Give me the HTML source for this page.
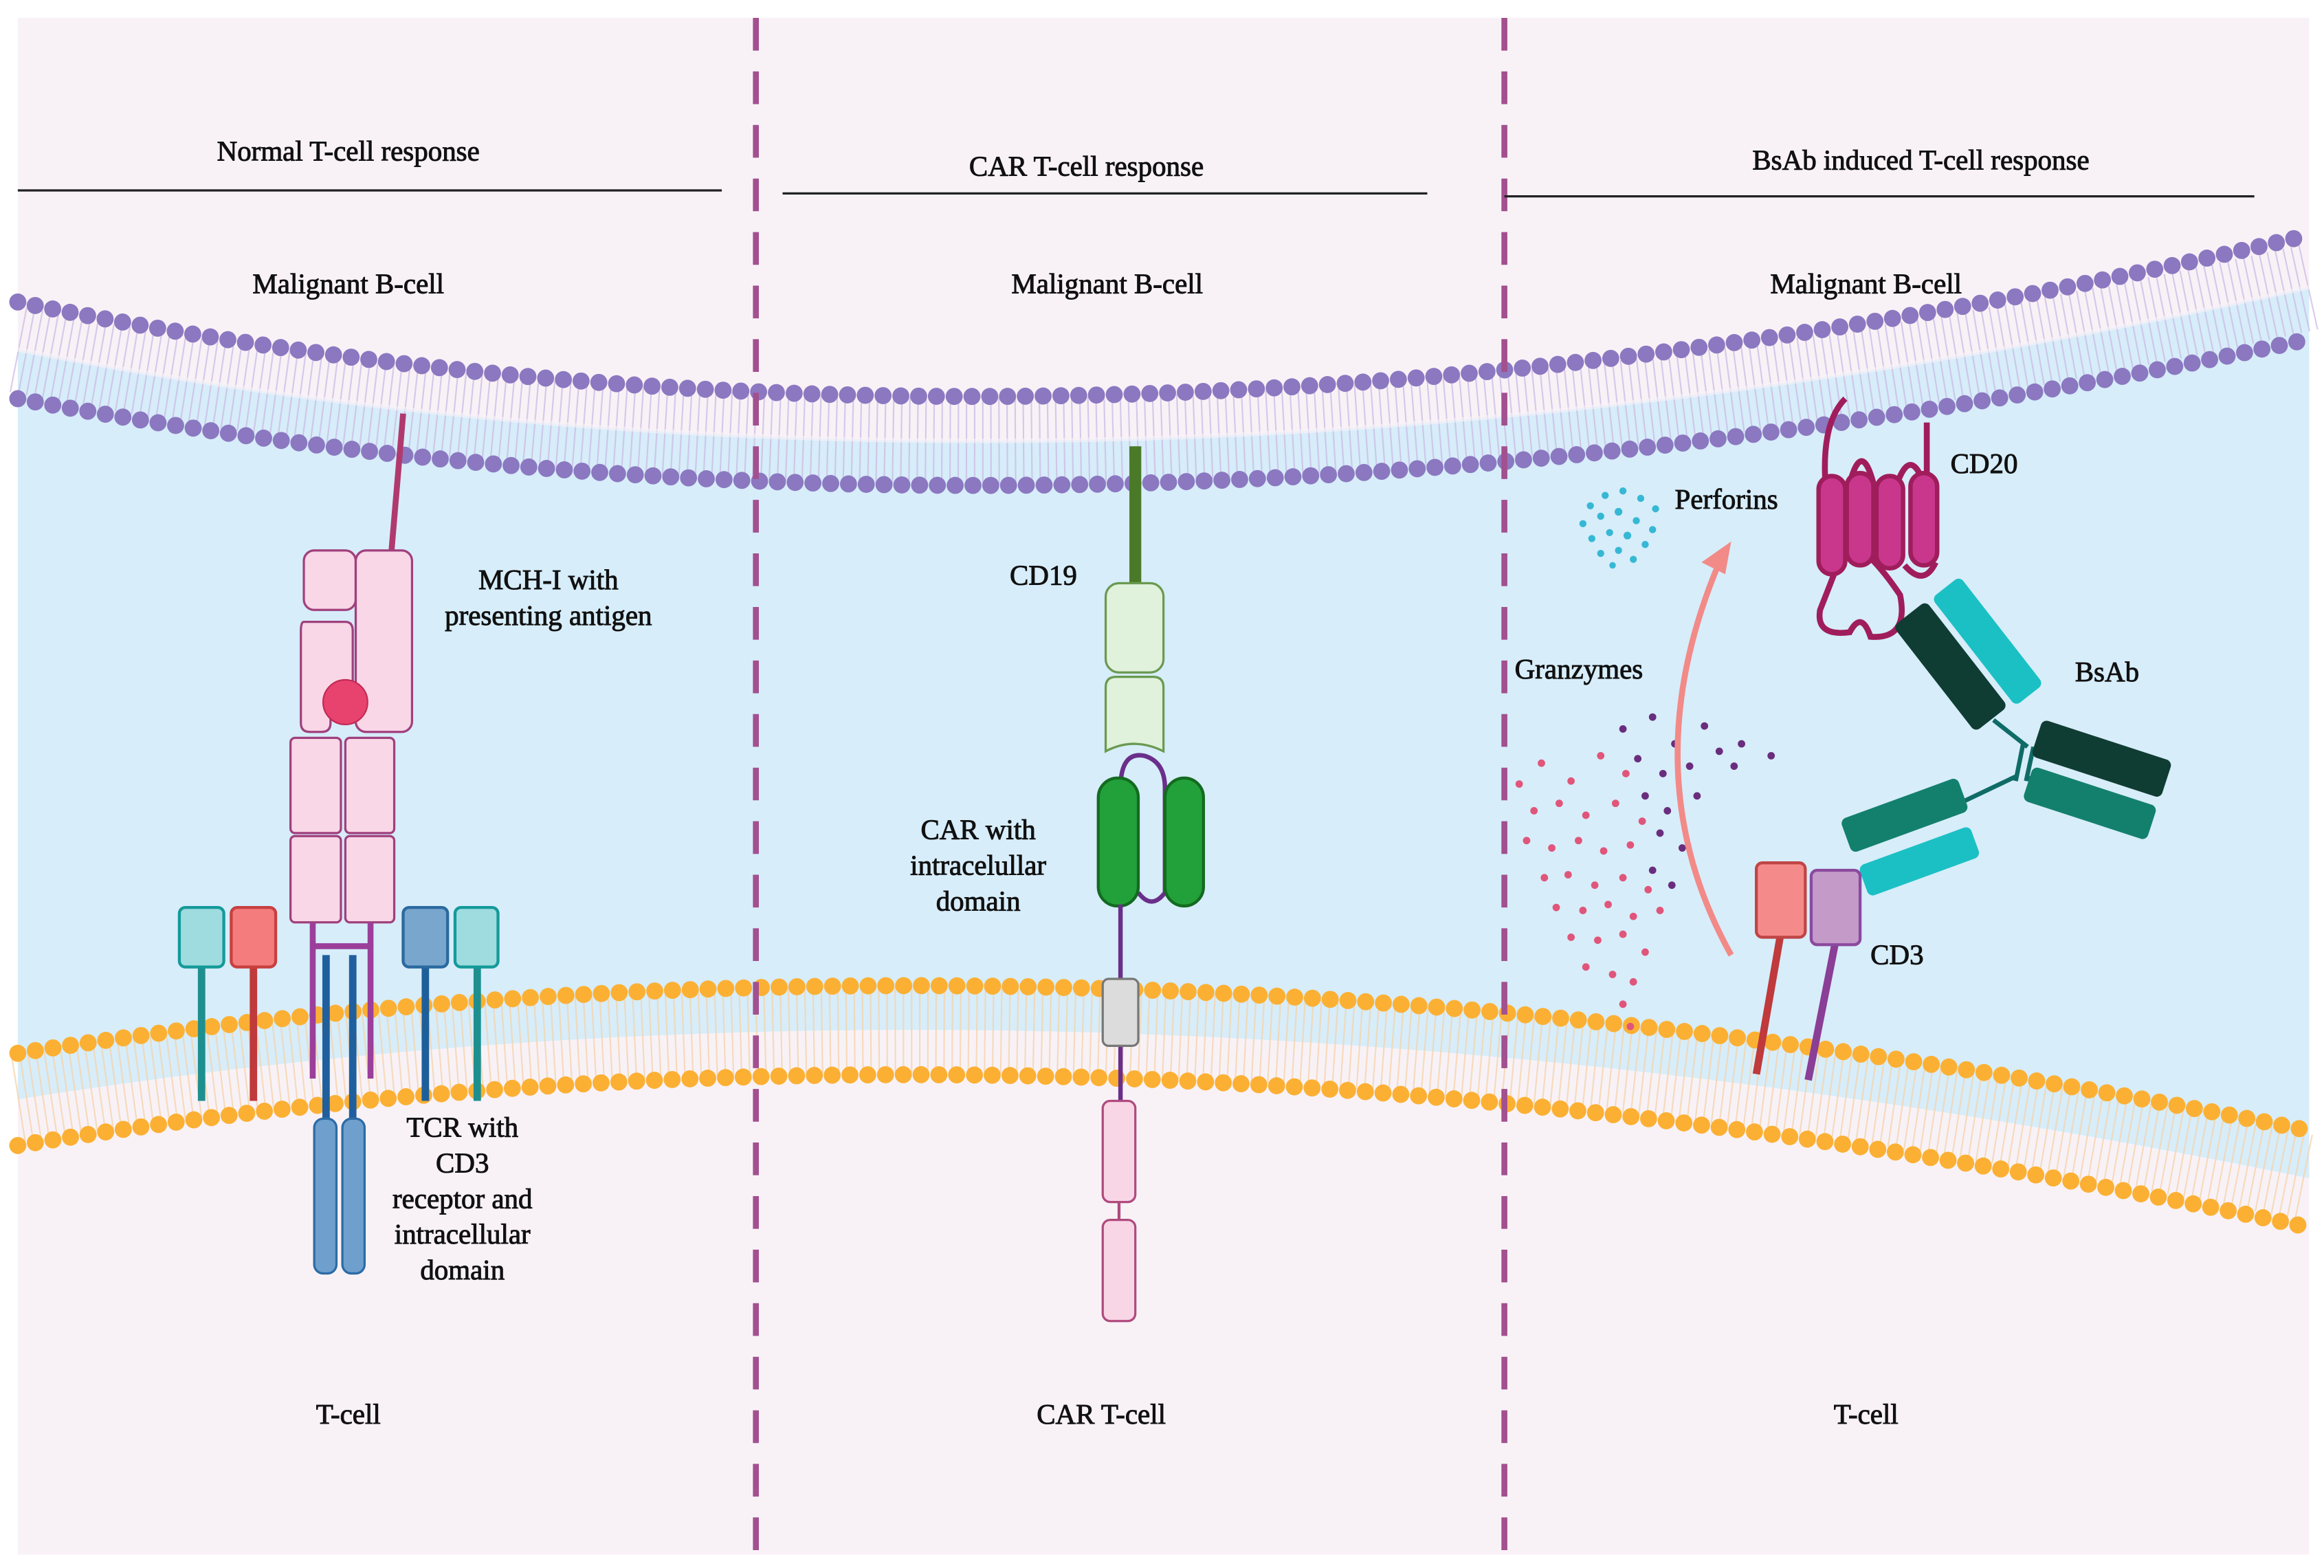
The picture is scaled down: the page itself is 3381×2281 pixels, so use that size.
<!DOCTYPE html>
<html><head><meta charset="utf-8"><style>
html,body{margin:0;padding:0;background:#fff;}
svg{display:block;}
text{font-family:"Liberation Serif",serif;fill:#111;stroke:#111;stroke-width:0.45;}
</style></head><body>
<svg width="3381" height="2281" viewBox="0 0 1568 1054" preserveAspectRatio="none" xmlns="http://www.w3.org/2000/svg">
<rect x="0" y="0" width="1568" height="1054" fill="#ffffff"/>
<rect x="12" y="12" width="1546" height="1033" fill="#f8f2f7"/>
<path d="M12,235 Q735,376 1558,193 L1558,792 Q735,624 12,739 Z" fill="#d7edfa"/>
<path d="M12,235 Q735,376 1558,193" fill="none" stroke="#c9b6e2" stroke-width="58" stroke-dasharray="1 4.5" opacity="0.7"/>
<path d="M12,235 Q735,376 1558,193" fill="none" stroke="#f8f2f7" stroke-width="3" opacity="0.6"/>
<path d="M12,203 Q735,349.5 1558,158" fill="none" stroke="#8b78c0" stroke-width="11.5" stroke-linecap="round" stroke-dasharray="0 12"/>
<path d="M12,268 Q735,402 1558,228" fill="none" stroke="#8b78c0" stroke-width="11.5" stroke-linecap="round" stroke-dasharray="0 12"/>
<path d="M12,739 Q735,624 1558,792" fill="none" stroke="#f6d2a6" stroke-width="58" stroke-dasharray="1 4.5" opacity="0.75"/>
<path d="M12,708 Q735,596 1558,760" fill="none" stroke="#fbb034" stroke-width="11.5" stroke-linecap="round" stroke-dasharray="0 12"/>
<path d="M12,770 Q735,652.5 1558,825" fill="none" stroke="#fbb034" stroke-width="11.5" stroke-linecap="round" stroke-dasharray="0 12"/>
<line x1="510" y1="12" x2="510" y2="1045" stroke="#a2508f" stroke-width="4" stroke-dasharray="22 14"/>
<line x1="1015" y1="12" x2="1015" y2="1045" stroke="#a2508f" stroke-width="4" stroke-dasharray="22 14"/>
<g font-size="19" text-anchor="middle">
<text x="235" y="108">Normal T-cell response</text>
<text x="733" y="118">CAR T-cell response</text>
<text x="1296" y="114">BsAb induced T-cell response</text>
<text x="235" y="197">Malignant B-cell</text>
<text x="747" y="197">Malignant B-cell</text>
<text x="1259" y="197">Malignant B-cell</text>
<text x="235" y="957">T-cell</text>
<text x="743" y="957">CAR T-cell</text>
<text x="1259" y="957">T-cell</text>
</g>
<line x1="12" y1="128" x2="487" y2="128" stroke="#222" stroke-width="1.5"/>
<line x1="528" y1="130" x2="963" y2="130" stroke="#222" stroke-width="1.5"/>
<line x1="1015" y1="132" x2="1521" y2="132" stroke="#222" stroke-width="1.5"/>

<line x1="272" y1="278" x2="264" y2="372" stroke="#b03a6e" stroke-width="4"/>
<g fill="#f9d7e6" stroke="#a0407e" stroke-width="1.5">
<rect x="205" y="370" width="35" height="40" rx="7"/>
<path d="M205,418 h28 q5,0 5,6 v36 q-8,-6 -15,6 v20 q0,6 -6,6 h-8 q-6,0 -6,-6 v-62 q0,-6 2,-6 z"/>
<rect x="240" y="370" width="38" height="122" rx="7"/>
<rect x="196" y="496" width="34" height="64" rx="3"/>
<rect x="233" y="496" width="33" height="64" rx="3"/>
<rect x="196" y="562" width="34" height="58" rx="3"/>
<rect x="233" y="562" width="33" height="58" rx="3"/>
</g>
<circle cx="233" cy="472" r="15" fill="#e8436e" stroke="#c22a55" stroke-width="1"/>
<g stroke="#9b3f9b" stroke-width="4" fill="none">
<line x1="211" y1="620" x2="211" y2="725"/><line x1="250" y1="620" x2="250" y2="725"/><line x1="211" y1="636" x2="250" y2="636"/>
</g>
<g stroke="#1f5f9e" stroke-width="5"><line x1="220" y1="642" x2="220" y2="760"/><line x1="238" y1="642" x2="238" y2="760"/></g>
<g fill="#6f9fcc" stroke="#2c6ba5" stroke-width="1.5">
<rect x="212" y="752" width="15" height="104" rx="6"/><rect x="231" y="752" width="15" height="104" rx="6"/>
</g>
<line x1="136" y1="650" x2="136" y2="740" stroke="#1e8f8f" stroke-width="5"/>
<line x1="171" y1="650" x2="171" y2="740" stroke="#c0393b" stroke-width="5"/>
<line x1="287" y1="650" x2="287" y2="740" stroke="#1d5f9a" stroke-width="5"/>
<line x1="322" y1="650" x2="322" y2="740" stroke="#1e8f8f" stroke-width="5"/>
<rect x="121" y="610" width="30" height="40" rx="4" fill="#9fdcdf" stroke="#159a9a" stroke-width="2"/>
<rect x="156" y="610" width="30" height="40" rx="4" fill="#f47c7c" stroke="#c84040" stroke-width="2"/>
<rect x="272" y="610" width="30" height="40" rx="4" fill="#78a6cc" stroke="#2a6aa0" stroke-width="2"/>
<rect x="307" y="610" width="29" height="40" rx="4" fill="#9fdcdf" stroke="#159a9a" stroke-width="2"/>
<g font-size="19" text-anchor="middle">
<text x="370" y="396">MCH-I with</text><text x="370" y="420">presenting antigen</text>
<text x="312" y="764">TCR with</text><text x="312" y="788">CD3</text><text x="312" y="812">receptor and</text><text x="312" y="836">intracellular</text><text x="312" y="860">domain</text>
</g>

<rect x="762" y="300" width="8" height="94" fill="#4a7a28"/>
<g fill="#e0f1dc" stroke="#6a9a50" stroke-width="1.5">
<rect x="746" y="392" width="39" height="60" rx="9"/>
<path d="M753,455 h25 q7,0 7,7 v43 q-20,-10 -39,0 v-43 q0,-7 7,-7 z"/>
</g>
<path d="M756,608 V530 Q756,505 772,508 Q786,512 786,530 V600 Q777,612 768,600" fill="none" stroke="#6a2f8a" stroke-width="3"/>
<rect x="741" y="523" width="27" height="86" rx="13" fill="#22a03a" stroke="#136b20" stroke-width="2"/>
<rect x="786" y="523" width="26" height="86" rx="13" fill="#22a03a" stroke="#136b20" stroke-width="2"/>
<line x1="756" y1="608" x2="756" y2="742" stroke="#6a2f8a" stroke-width="3"/>
<line x1="755" y1="806" x2="755" y2="822" stroke="#b04a7e" stroke-width="2"/>
<rect x="744" y="658" width="24" height="45" rx="4" fill="#dcdcdc" stroke="#777" stroke-width="1.5"/>
<rect x="744" y="740" width="22" height="68" rx="5" fill="#f8d6e6" stroke="#b04a7e" stroke-width="1.5"/>
<rect x="744" y="820" width="22" height="68" rx="5" fill="#f8d6e6" stroke="#b04a7e" stroke-width="1.5"/>
<g font-size="19" text-anchor="middle">
<text x="704" y="393">CD19</text>
<text x="660" y="564">CAR with</text><text x="660" y="588">intracelullar</text><text x="660" y="612">domain</text>
</g>

<g fill="#36b8d4">
<circle cx="1073" cy="340" r="2.4"/><circle cx="1083" cy="333" r="2.4"/><circle cx="1095" cy="330" r="2.4"/><circle cx="1107" cy="335" r="2.4"/><circle cx="1117" cy="342" r="2.4"/>
<circle cx="1068" cy="352" r="2.4"/><circle cx="1080" cy="347" r="2.4"/><circle cx="1092" cy="344" r="2.6"/><circle cx="1104" cy="350" r="2.4"/><circle cx="1115" cy="356" r="2.4"/>
<circle cx="1074" cy="362" r="2.4"/><circle cx="1086" cy="358" r="2.4"/><circle cx="1098" cy="360" r="2.6"/><circle cx="1110" cy="366" r="2.4"/>
<circle cx="1080" cy="372" r="2.4"/><circle cx="1092" cy="370" r="2.4"/><circle cx="1102" cy="376" r="2.4"/><circle cx="1088" cy="380" r="2.2"/>
</g>
<g fill="#e0567a">
<circle cx="1025" cy="527" r="2.5"/><circle cx="1040" cy="513" r="2.5"/><circle cx="1060" cy="525" r="2.5"/><circle cx="1080" cy="508" r="2.5"/><circle cx="1097" cy="520" r="2.5"/>
<circle cx="1035" cy="545" r="2.5"/><circle cx="1052" cy="540" r="2.5"/><circle cx="1070" cy="548" r="2.5"/><circle cx="1090" cy="540" r="2.5"/><circle cx="1108" cy="552" r="2.5"/>
<circle cx="1030" cy="565" r="2.5"/><circle cx="1047" cy="570" r="2.5"/><circle cx="1065" cy="565" r="2.5"/><circle cx="1082" cy="572" r="2.5"/><circle cx="1100" cy="568" r="2.5"/>
<circle cx="1042" cy="590" r="2.5"/><circle cx="1058" cy="588" r="2.5"/><circle cx="1076" cy="595" r="2.5"/><circle cx="1095" cy="590" r="2.5"/><circle cx="1112" cy="598" r="2.5"/>
<circle cx="1050" cy="610" r="2.5"/><circle cx="1068" cy="612" r="2.5"/><circle cx="1085" cy="608" r="2.5"/><circle cx="1102" cy="616" r="2.5"/><circle cx="1120" cy="612" r="2.5"/>
<circle cx="1060" cy="630" r="2.5"/><circle cx="1078" cy="632" r="2.5"/><circle cx="1095" cy="628" r="2.5"/><circle cx="1110" cy="640" r="2.5"/>
<circle cx="1070" cy="650" r="2.5"/><circle cx="1088" cy="655" r="2.5"/><circle cx="1102" cy="660" r="2.5"/><circle cx="1095" cy="675" r="2.5"/><circle cx="1100" cy="690" r="2.5"/>
</g>
<g fill="#6a2d7e">
<circle cx="1095" cy="490" r="2.5"/><circle cx="1115" cy="482" r="2.5"/><circle cx="1130" cy="500" r="2.5"/><circle cx="1150" cy="488" r="2.5"/><circle cx="1160" cy="505" r="2.5"/>
<circle cx="1105" cy="510" r="2.5"/><circle cx="1122" cy="520" r="2.5"/><circle cx="1140" cy="515" r="2.5"/><circle cx="1175" cy="500" r="2.5"/><circle cx="1195" cy="508" r="2.5"/>
<circle cx="1110" cy="535" r="2.5"/><circle cx="1125" cy="545" r="2.5"/><circle cx="1145" cy="535" r="2.5"/><circle cx="1120" cy="560" r="2.5"/><circle cx="1135" cy="570" r="2.5"/>
<circle cx="1115" cy="585" r="2.5"/><circle cx="1128" cy="595" r="2.5"/><circle cx="1170" cy="515" r="2.5"/>
</g>
<path d="M1168,642 Q1100,520 1160,378" fill="none" stroke="#f28a88" stroke-width="4"/>
<path d="M1168,364 L1148,378 L1164,386 Z" fill="#f28a88"/>
<g font-size="19">
<text x="1130" y="342">Perforins</text>
<text x="1022" y="456">Granzymes</text>
<text x="1316" y="318">CD20</text>
<text x="1400" y="458">BsAb</text>
<text x="1262" y="648">CD3</text>
</g>
<g fill="none" stroke="#a01d5c" stroke-width="4">
<path d="M1232,330 Q1228,285 1245,268"/>
<path d="M1300,330 V284"/>
<path d="M1248,325 Q1256,295 1264,325"/>
<path d="M1280,325 Q1289,300 1298,325"/>
<path d="M1239,382 Q1232,400 1228,410 Q1225,428 1248,425 Q1256,410 1262,428 Q1288,430 1282,400 Q1272,385 1262,375"/>
<path d="M1285,380 Q1298,395 1306,378"/>
</g>
<g fill="#c8378c" stroke="#a01d5c" stroke-width="3">
<rect x="1227" y="320" width="18" height="66" rx="9"/>
<rect x="1246" y="318" width="18" height="62" rx="9"/>
<rect x="1266" y="320" width="18" height="62" rx="9"/>
<rect x="1289" y="318" width="18" height="62" rx="9"/>
</g>
<g stroke="#0f6b66" stroke-width="3"><line x1="1345" y1="484" x2="1368" y2="502"/><line x1="1365" y1="500" x2="1360" y2="525"/><line x1="1372" y1="502" x2="1367" y2="525"/><line x1="1360" y1="522" x2="1322" y2="540"/><line x1="1367" y1="522" x2="1385" y2="532"/></g>
<rect x="1302" y="403" width="28" height="90" rx="4" fill="#103d33" transform="rotate(-38 1316 448)"/>
<rect x="1329" y="385" width="24" height="92" rx="4" fill="#1bc0c4" transform="rotate(-38 1341 431)"/>
<rect x="1372" y="497" width="92" height="26" rx="4" fill="#103d33" transform="rotate(18 1418 510)"/>
<rect x="1366" y="528" width="88" height="24" rx="4" fill="#13806d" transform="rotate(18 1410 540)"/>
<rect x="1243" y="536" width="84" height="24" rx="4" fill="#13806d" transform="rotate(-20 1285 548)"/>
<rect x="1255" y="568" width="80" height="22" rx="4" fill="#1bc0c4" transform="rotate(-20 1295 579)"/>
<line x1="1201" y1="630" x2="1185" y2="722" stroke="#c0393b" stroke-width="5"/>
<line x1="1238" y1="635" x2="1220" y2="726" stroke="#8a3e96" stroke-width="5"/>
<rect x="1185" y="580" width="33" height="50" rx="4" fill="#f58a8a" stroke="#c04545" stroke-width="2"/>
<rect x="1222" y="585" width="33" height="50" rx="4" fill="#c49ac8" stroke="#8a4a9e" stroke-width="2"/>
</svg>
</body></html>
